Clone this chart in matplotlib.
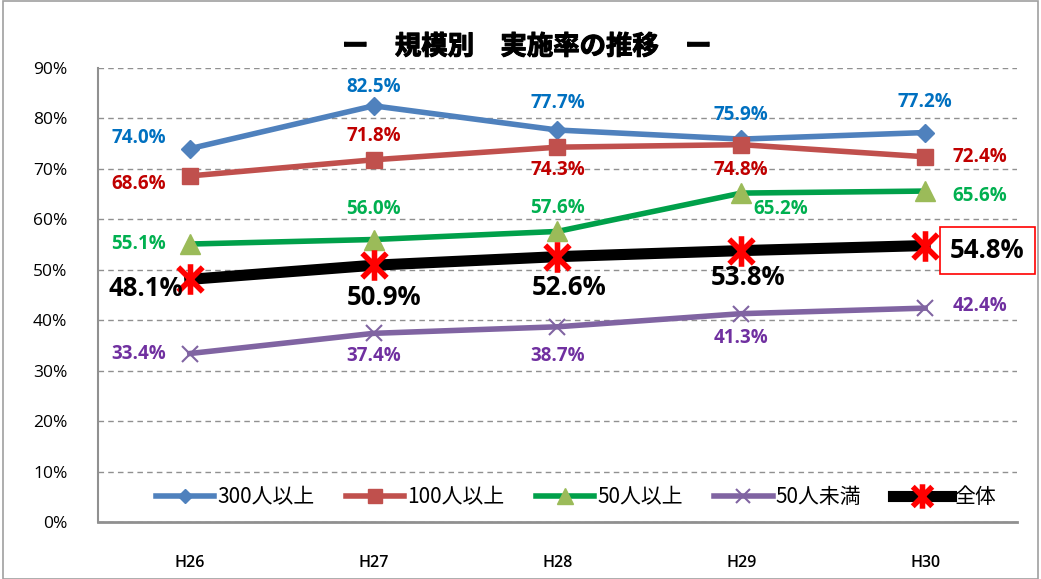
import matplotlib
matplotlib.use("Agg")
import matplotlib.pyplot as plt
import matplotlib.patheffects as pe
from matplotlib.path import Path
from matplotlib.patches import Rectangle
import numpy as np

plt.rcParams['font.family'] = ['Open Sans', 'Noto Sans CJK JP', 'DejaVu Sans']

# データ
years = ["H26", "H27", "H28", "H29", "H30"]
v300 = [74.0, 82.5, 77.7, 75.9, 77.2]
v100 = [68.6, 71.8, 74.3, 74.8, 72.4]
v50 = [55.1, 56.0, 57.6, 65.2, 65.6]
v50u = [33.4, 37.4, 38.7, 41.3, 42.4]
vall = [48.1, 50.9, 52.6, 53.8, 54.8]
names = ["300人以上", "100人以上", "50人以上", "50人未満", "全体"]

# 縦線 + X のマーカー
star = Path([(0, -1), (0, 1), (-0.8, -0.8), (0.8, 0.8), (-0.8, 0.8), (0.8, -0.8)],
            [Path.MOVETO, Path.LINETO] * 3)

fig = plt.figure(figsize=(10.41, 5.79), dpi=100)
fig.patches.append(Rectangle((0.003, 0.0), 0.994, 0.998, transform=fig.transFigure,
                             fill=False, edgecolor="#a0a0a0", lw=1.2))
ax = fig.add_axes([0.094, 0.0984, 0.883, 0.7842])
x = np.arange(len(years))

ax.plot(x, v300, color="#4F81BD", lw=4, marker="D", ms=9, label=names[0], zorder=3)
ax.plot(x, v100, color="#C0504D", lw=4, marker="s", ms=12, label=names[1], zorder=3)
ax.plot(x, v50, color="#00A04A", lw=4, marker="^", ms=14, mfc="#9BBB59", mec="#9BBB59",
        label=names[2], zorder=3)
ax.plot(x, v50u, color="#8064A2", lw=4, marker="x", ms=12, mew=1.5, label=names[3], zorder=3)
ax.plot(x, vall, color="black", lw=8, marker=star, ms=22, mec="red", mew=4,
        label=names[4], zorder=4)

ax.set_xlim(-0.5, 4.5)
ax.set_ylim(0, 90)
ax.set_yticks(np.arange(0, 91, 10))
ax.set_yticklabels([f"{v}%" for v in range(0, 91, 10)], fontsize=12.5)
ax.set_xticks(x)
ax.set_xticklabels(years, fontsize=11.5, fontweight="semibold")
ax.tick_params(axis="x", length=0, pad=24)
ax.tick_params(axis="y", length=0, pad=22)
ax.grid(axis="y", ls=(0, (4, 3)), color="#909090", lw=1)
for s in ["top", "right"]:
    ax.spines[s].set_visible(False)
ax.spines["left"].set_color("#909090")
ax.spines["bottom"].set_color("#909090")
ax.spines["left"].set_linewidth(1.5)
ax.spines["bottom"].set_linewidth(2)

# ラベルの位置 (ピクセル単位のオフセット)
off300 = [(-51, 11), (0, 19), (0, 27), (0, 24), (0, 31)]
off100 = [(-51, -8), (0, 24), (0, -23), (0, -25), (55, 0)]
off50 = [(-51, 0), (0, 31), (0, 23), (39, -16), (55, -5)]
off50u = [(-51, 0), (0, -23), (0, -29), (0, -24), (55, 2)]
offall = [(-44, -9), (10, -32), (12, -31), (7, -27), (62, -5)]

series = [(v300, off300, "#0070C0"), (v100, off100, "#C00000"),
          (v50, off50, "#00B050"), (v50u, off50u, "#7030A0")]
for vals, offs, c in series:
    for i, (v, o) in enumerate(zip(vals, offs)):
        ax.annotate(f"{v:.1f}%", (i, v), xytext=o, textcoords="offset pixels",
                    ha="center", va="center", color=c, fontsize=13.5, fontweight="bold")
for i, (v, o) in enumerate(zip(vall, offall)):
    kw = {}
    if i == 4:
        kw["bbox"] = dict(boxstyle="square,pad=0.4", fc="white", ec="red", lw=1.2)
    ax.annotate(f"{v:.1f}%", (i, v), xytext=o, textcoords="offset pixels",
                ha="center", va="center", color="black", fontsize=18.5, fontweight="bold",
                zorder=6, **kw)

fig.text(0.506, 0.919, "ー　規模別　実施率の推移　ー", fontsize=19, fontweight="bold",
         ha="center", va="center", fontfamily=["Noto Sans CJK JP"],
         path_effects=[pe.withStroke(linewidth=0.8, foreground="black")])

leg = ax.legend(loc="center", bbox_to_anchor=(0.52, 0.055), ncol=5, frameon=False,
                fontsize=15, handlelength=2.8, handletextpad=0.15, columnspacing=1.5,
                markerscale=0.8)
for t in leg.get_texts():
    t.set_fontfamily(["Noto Sans CJK JP"])

fig.savefig("out.png", dpi=100)
